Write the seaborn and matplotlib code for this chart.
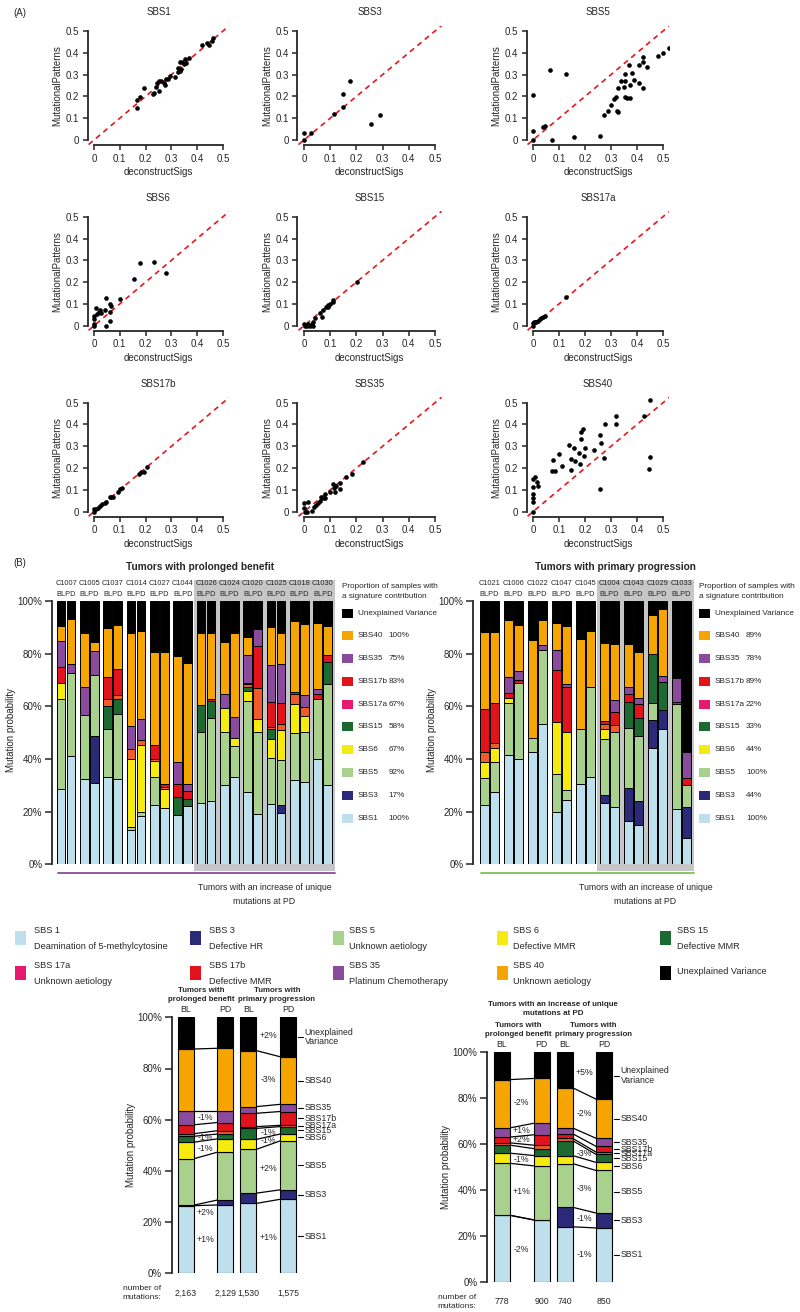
"""Signature comparison figure: (A) deconstructSigs vs MutationalPatterns, (B) stacked contributions."""
import matplotlib

matplotlib.use("Agg")
import matplotlib.pyplot as plt
import numpy as np
import seaborn as sns
from matplotlib.lines import Line2D
from matplotlib.patches import Rectangle

W, H = 800, 1312

# ---------------------------------------------------------------- data (A)
SBS1_DS = [0.167, 0.167, 0.180, 0.194, 0.229, 0.231, 0.242, 0.245, 0.252, 0.252, 0.261,
           0.270, 0.274, 0.280, 0.287, 0.293, 0.313, 0.326, 0.326, 0.332, 0.338, 0.332,
           0.342, 0.351, 0.349, 0.355, 0.368, 0.420, 0.438, 0.446, 0.461, 0.456]
SBS1_MP = [0.148, 0.183, 0.196, 0.237, 0.209, 0.217, 0.242, 0.260, 0.271, 0.226, 0.271,
           0.260, 0.252, 0.278, 0.280, 0.294, 0.290, 0.313, 0.332, 0.318, 0.324, 0.356,
           0.359, 0.370, 0.347, 0.352, 0.378, 0.436, 0.443, 0.436, 0.466, 0.453]
SBS3_DS = [0, 0, 0.027, 0.115, 0.148, 0.148, 0.176, 0.256, 0.290]
SBS3_MP = [0.034, 0, 0.034, 0.118, 0.150, 0.210, 0.271, 0.072, 0.113]
SBS5_DS = [0, 0, 0, 0.038, 0.045, 0.064, 0.073, 0.127, 0.159, 0.259, 0.272, 0.287, 0.300,
           0.313, 0.319, 0.323, 0.326, 0.326, 0.338, 0.349, 0.354, 0.354, 0.354, 0.362,
           0.372, 0.369, 0.379, 0.372, 0.387, 0.406, 0.408, 0.422, 0.422, 0.422, 0.438,
           0.481, 0.500, 0.522]
SBS5_MP = [0, 0.043, 0.206, 0.061, 0.064, 0.321, 0, 0.303, 0.012, 0.018, 0.113, 0.133,
           0.159, 0.187, 0.196, 0.133, 0.130, 0.240, 0.271, 0.242, 0.271, 0.303, 0.199,
           0.194, 0.191, 0.343, 0.309, 0.252, 0.275, 0.263, 0.344, 0.356, 0.379, 0.237,
           0.336, 0.385, 0.398, 0.424]
SBS6_DS = [0, 0, 0, 0, 0.013, 0.009, 0.018, 0.022, 0.028, 0.041, 0.048, 0.045, 0.063,
           0.065, 0.063, 0.061, 0.099, 0.154, 0.180, 0.233, 0.280]
SBS6_MP = [0, 0.008, 0.031, 0.046, 0.054, 0.083, 0.061, 0.072, 0.057, 0.070, 0.125, 0,
           0.101, 0.090, 0.061, 0.021, 0.122, 0.213, 0.286, 0.294, 0.240]
SBS15_DS = [0, 0.004, 0.010, 0.017, 0.023, 0.029, 0.033, 0.036, 0.042, 0.061, 0.067,
            0.074, 0.083, 0.093, 0.093, 0.099, 0.109, 0.112, 0.201]
SBS15_MP = [0.008, 0, 0, 0.008, 0, 0.008, 0.018, 0, 0.034, 0.060, 0.041, 0.072, 0.087,
            0.084, 0.095, 0.099, 0.118, 0.107, 0.200]
SBS17A_DS = [0, 0, 0.003, 0.006, 0.013, 0.019, 0.026, 0.032, 0.038, 0.045, 0.128]
SBS17A_MP = [0.011, 0, 0.018, 0.015, 0.018, 0.023, 0.031, 0.034, 0.041, 0.046, 0.130]
SBS17B_DS = [0, 0, 0.009, 0.016, 0.022, 0.032, 0.041, 0.048, 0.061, 0.067, 0.074, 0.093,
             0.102, 0.110, 0.174, 0.183, 0.193, 0.205]
SBS17B_MP = [0, 0.011, 0.011, 0.018, 0.026, 0.035, 0.038, 0.043, 0.069, 0.066, 0.069,
             0.091, 0.102, 0.110, 0.175, 0.180, 0.183, 0.206]
SBS35_DS = [0, 0, 0.004, 0.010, 0.017, 0.029, 0.038, 0.046, 0.055, 0.061, 0.064, 0.071,
            0.080, 0.080, 0.099, 0.112, 0.116, 0.118, 0.122, 0.137, 0.137, 0.159, 0.182,
            0.226]
SBS35_MP = [0.041, 0.018, 0, 0, 0.046, 0.005, 0.023, 0.030, 0.038, 0.047, 0.069, 0.061,
            0.081, 0.061, 0.091, 0.125, 0.107, 0.091, 0.119, 0.130, 0.104, 0.157, 0.172,
            0.226]
SBS40_DS = [0, 0, 0, 0, 0, 0, 0.009, 0.015, 0.019, 0.076, 0.073, 0.086, 0.099, 0.112,
            0.137, 0.146, 0.147, 0.156, 0.160, 0.179, 0.178, 0.185, 0.186, 0.192, 0.195,
            0.201, 0.233, 0.259, 0.262, 0.256, 0.272, 0.276, 0.321, 0.321, 0.426, 0.449,
            0.449, 0.445]
SBS40_MP = [0, 0.043, 0.061, 0.081, 0.114, 0.149, 0.157, 0.134, 0.119, 0.236, 0.186,
            0.186, 0.264, 0.209, 0.305, 0.191, 0.240, 0.294, 0.233, 0.218, 0.268, 0.332,
            0.366, 0.378, 0.255, 0.290, 0.285, 0.352, 0.315, 0.102, 0.247, 0.401, 0.441,
            0.401, 0.439, 0.511, 0.252, 0.194]

SCATTER = [
    ("SBS1", SBS1_DS, SBS1_MP), ("SBS3", SBS3_DS, SBS3_MP), ("SBS5", SBS5_DS, SBS5_MP),
    ("SBS6", SBS6_DS, SBS6_MP), ("SBS15", SBS15_DS, SBS15_MP), ("SBS17a", SBS17A_DS, SBS17A_MP),
    ("SBS17b", SBS17B_DS, SBS17B_MP), ("SBS35", SBS35_DS, SBS35_MP), ("SBS40", SBS40_DS, SBS40_MP),
]

# ---------------------------------------------------------------- data (B)
# columns: SBS1, SBS3, SBS5, SBS6, SBS15, SBS17a, SBS17b, SBS35, SBS40 (%); rest = unexplained
SIGS = ["SBS1", "SBS3", "SBS5", "SBS6", "SBS15", "SBS17a", "SBS17b", "SBS35", "SBS40",
        "Unexplained Variance"]
BAR_COLORS = ["#bde0ec", "#2b2a78", "#a9d18e", "#f7ea0f", "#1c6a30", "#f15a29",
              "#e3131c", "#8b4b9d", "#f6a400", "#000000"]
KEY_COLORS = ["#bde0ec", "#2b2a78", "#a9d18e", "#f7ea0f", "#1c6a30", "#e6196e",
              "#e3131c", "#8b4b9d", "#f6a400", "#000000"]

BENEFIT_SAMPLES = ["C1007", "C1005", "C1037", "C1014", "C1027", "C1044",
                   "C1026", "C1024", "C1020", "C1025", "C1018", "C1030"]
BENEFIT_BARS = [
    [28.5, 0, 34.3, 6.1, 0, 0, 6.1, 9.8, 5.6], [41.3, 0, 31.4, 0, 0, 0, 0, 3.3, 17.3],
    [32.4, 0, 24.3, 0, 0, 0, 0, 10.5, 20.6], [30.8, 17.9, 23.1, 0, 0, 0, 0, 9.2, 3.4],
    [33.3, 0, 18.1, 0, 8.7, 2.6, 8.4, 0, 18.8], [32.4, 0, 24.6, 0, 5.7, 1.6, 10.0, 0, 16.7],
    [13.0, 0, 1.3, 25.7, 0, 3.8, 0, 8.9, 35.1], [18.4, 0, 1.6, 25.3, 0, 1.9, 0, 7.9, 33.5],
    [22.5, 0, 10.8, 5.9, 0, 0.8, 5.3, 0, 35.3], [21.5, 0, 0, 7.1, 0, 0.9, 1.0, 0, 50.1],
    [18.7, 0, 0, 0, 7.0, 0, 4.8, 8.5, 40.2], [22.2, 0, 0, 0, 2.6, 0, 3.0, 2.6, 46.1],
    [23.2, 0, 26.9, 0, 10.4, 0, 0, 0, 27.5], [24.2, 0, 31.5, 0, 6.3, 0, 0.8, 0, 25.2],
    [30.1, 0, 20.3, 8.8, 0, 0, 0, 5.4, 19.8], [33.0, 0, 11.9, 2.9, 0, 0, 0, 8.2, 31.8],
    [27.6, 0, 34.6, 3.8, 1.5, 1.0, 0.5, 10.5, 6.8], [19.2, 0, 30.9, 5.1, 0, 11.6, 16.0, 6.7, 0],
    [22.9, 0, 17.4, 7.2, 3.9, 0.9, 9.2, 14.1, 14.5], [19.6, 2.9, 17.1, 11.4, 0, 2.2, 7.9, 15.1, 11.6],
    [32.0, 0, 17.7, 11.1, 0, 3.9, 0.9, 0, 26.7], [31.4, 0, 18.7, 6.2, 0, 3.6, 0, 4.4, 26.8],
    [40.0, 0, 22.7, 0, 0, 0, 1.9, 1.9, 25.3], [30.1, 0, 38.5, 0, 8.2, 0, 2.8, 0, 10.8],
]
BENEFIT_PROP = ["100%", "75%", "83%", "67%", "58%", "67%", "92%", "17%", "100%"]

PROGRESSION_SAMPLES = ["C1021", "C1006", "C1022", "C1047", "C1045",
                       "C1004", "C1043", "C1029", "C1033"]
PROGRESSION_BARS = [
    [22.6, 0, 10.1, 6.3, 0, 3.7, 16.2, 0, 29.5], [27.4, 0, 11.6, 5.0, 0, 2.0, 15.2, 0, 27.2],
    [41.6, 0, 19.6, 1.8, 0, 0, 1.9, 6.1, 21.7], [40.0, 0, 29.0, 0, 0, 0, 1.0, 3.5, 17.4],
    [42.7, 0, 5.1, 0, 0, 0, 0, 0, 37.2], [53.2, 0, 28.3, 0, 0, 0, 0, 1.9, 9.4],
    [19.8, 0, 14.5, 19.8, 0, 0, 19.7, 7.5, 10.3], [24.5, 0, 3.7, 22.1, 0, 0, 17.2, 0.8, 22.3],
    [30.5, 0, 20.8, 0, 0, 0, 0, 0, 34.3], [33.0, 0, 34.5, 0, 0, 0, 0, 0, 21.0],
    [23.2, 3.2, 21.1, 3.8, 0, 1.9, 1.3, 0, 29.6], [21.7, 0, 28.7, 0, 0, 2.6, 5.0, 4.4, 21.4],
    [16.3, 12.6, 22.7, 0, 10.2, 0, 2.8, 2.9, 16.0], [14.8, 9.2, 24.6, 0, 7.1, 0, 5.1, 2.3, 17.5],
    [44.0, 10.7, 6.5, 0, 18.8, 0, 0, 0, 14.8], [51.3, 7.2, 0, 0, 10.9, 0, 0, 2.2, 25.3],
    [21.0, 0, 39.8, 0, 0, 0, 0.9, 9.2, 0], [10.0, 11.7, 8.4, 0, 0, 0, 2.7, 9.9, 0],
]
PROGRESSION_PROP = ["89%", "78%", "89%", "22%", "33%", "44%", "100%", "44%", "100%"]
N_UNIQUE_FROM = 6  # first sample (index) with an increase of unique mutations at PD
N_UNIQUE_FROM_PROG = 5

# pooled contributions: [BL, PD] for prolonged benefit, then primary progression
ALL_BENEFIT_BL = [26.4, 0.2, 18.1, 6.5, 2.3, 1.0, 3.5, 5.5, 24.1]
ALL_BENEFIT_PD = [26.7, 1.9, 18.7, 5.2, 1.9, 1.3, 3.2, 4.6, 24.4]
ALL_PROG_BL = [27.3, 4.0, 17.1, 3.9, 4.3, 0.7, 5.2, 2.6, 21.9]
ALL_PROG_PD = [28.9, 3.7, 19.1, 2.7, 2.9, 0.5, 5.4, 2.8, 18.6]
ALL_MUTATIONS = ["2,163", "2,129", "1,530", "1,575"]
ALL_DELTAS = [[(0, "+1%", 0), (1, "+2%", -3.5), (3, "-1%", 0), (4, "-1%", 0), (7, "-1%", 0)],
              [(0, "+1%", 0), (2, "+2%", 0), (3, "-1%", 0), (4, "-1%", 0), (8, "-3%", 0),
               (9, "+2%", 0)]]

INC_BENEFIT_BL = [29.0, 0, 22.6, 4.4, 3.5, 1.0, 2.5, 4.0, 21.0]
INC_BENEFIT_PD = [27.0, 0, 23.5, 4.5, 3.0, 1.5, 4.5, 5.0, 19.5]
INC_PROG_BL = [24.0, 8.5, 19.0, 3.5, 6.5, 1.0, 2.0, 2.5, 17.5]
INC_PROG_PD = [23.5, 6.5, 18.5, 3.5, 3.5, 1.0, 2.5, 3.5, 17.0]
INC_MUTATIONS = ["778", "900", "740", "850"]
INC_DELTAS = [[(0, "-2%", 0), (2, "+1%", 0), (3, "-1%", 0), (6, "+2%", 0), (7, "+1%", 0),
               (8, "-2%", 0)],
              [(0, "-1%", 0), (1, "-1%", 0), (2, "-3%", 0), (4, "-3%", 0), (8, "-2%", 0),
               (9, "+5%", 0)]]

LEGEND_TEXT = [("SBS 1", "Deamination of 5-methylcytosine"), ("SBS 3", "Defective HR"),
               ("SBS 5", "Unknown aetiology"), ("SBS 6", "Defective MMR"),
               ("SBS 15", "Defective MMR"), ("SBS 17a", "Unknown aetiology"),
               ("SBS 17b", "Defective MMR"), ("SBS 35", "Platinum Chemotherapy"),
               ("SBS 40", "Unknown aetiology"), ("Unexplained Variance", None)]

# ---------------------------------------------------------------- setup
sns.set_style("ticks")
plt.rcParams["font.family"] = ["Liberation Sans", "DejaVu Sans"]
plt.rcParams["axes.linewidth"] = 1.3

fig = plt.figure(figsize=(W / 100, H / 100), dpi=100)


def box(x0, y0, x1, y1):
    ax = fig.add_axes([x0 / W, 1 - y1 / H, (x1 - x0) / W, (y1 - y0) / H])
    ax.set_facecolor("none")
    return ax


def ftext(x, y, s, **kw):
    kw.setdefault("va", "center")
    kw.setdefault("fontsize", 7)
    fig.text(x / W, 1 - y / H, s, **kw)


def frect(x0, y0, x1, y1, **kw):
    fig.add_artist(Rectangle((x0 / W, 1 - y1 / H), (x1 - x0) / W, (y1 - y0) / H,
                             transform=fig.transFigure, **kw))


def fline(x0, y0, x1, y1, **kw):
    fig.add_artist(Line2D([x0 / W, x1 / W], [1 - y0 / H, 1 - y1 / H],
                          transform=fig.transFigure, **kw))


# ---------------------------------------------------------------- panel A
COL_X0 = [94, 304, 533]
COL_UX = [258, 262, 260]
ROW_Y0 = [140, 325.7, 511.7]
UY = 218
LO, HI = -0.025, 0.525
ticks = [0, 0.1, 0.2, 0.3, 0.4, 0.5]
tick_labels = ["0", "0.1", "0.2", "0.3", "0.4", "0.5"]

ftext(13, 13, "(A)", fontsize=7)
for k, (name, xs, ys) in enumerate(SCATTER):
    r, c = divmod(k, 3)
    x0, ux, y0 = COL_X0[c], COL_UX[c], ROW_Y0[r]
    ax = box(x0 + LO * ux, y0 - HI * UY, x0 + HI * ux, y0 - LO * UY)
    ax.plot([LO + 0.004, HI], [LO + 0.004, HI], ls=(0, (3.2, 2.6)), color="#e8161d",
            lw=1.2, zorder=1)
    sns.scatterplot(x=xs, y=ys, ax=ax, color="black", s=11, linewidth=0, zorder=2)
    ax.set_xlim(LO, HI)
    ax.set_ylim(LO, HI)
    sns.despine(ax=ax)
    ax.spines["left"].set_bounds(0, 0.5)
    ax.spines["bottom"].set_bounds(0, 0.5)
    ax.set_xticks(ticks, tick_labels)
    ax.set_yticks(ticks, tick_labels)
    ax.tick_params(length=3.5, width=1.1, pad=2.5, labelsize=7)
    ftext(x0 + 0.25 * ux, y0 - 0.5 * UY - 19, name, ha="center")
    ftext(x0 + 0.25 * ux, y0 + 32, "deconstructSigs", ha="center")
    ftext(x0 - 37, y0 - 0.25 * UY, "MutationalPatterns", ha="center", rotation=90)

# ---------------------------------------------------------------- panel B
ftext(13, 563, "(B)", fontsize=7)
BAR_W = 8.7
PD_OFF = 10


def sample_panel(spine_x, right_x, first_left, step, samples, bars, prop, unique_from,
                 title, title_x, line_color, key_x):
    top, bottom = 601, 864.3
    ax = box(spine_x, top, right_x, bottom)
    ax.set_xlim(spine_x, right_x)
    ax.set_ylim(0, 100)
    n = len(samples)
    bl_left = first_left + step * np.arange(n)
    centers = np.ravel(np.column_stack([bl_left + BAR_W / 2, bl_left + PD_OFF + BAR_W / 2]))
    vals = np.array(bars)
    vals = np.column_stack([vals, 100 - vals.sum(axis=1)])
    cum = np.zeros(len(vals))
    for j in range(vals.shape[1]):
        ax.bar(centers, vals[:, j], bottom=cum, width=BAR_W, color=BAR_COLORS[j],
               edgecolor="black", linewidth=0.7, zorder=3)
        cum += vals[:, j]
    sns.despine(ax=ax, bottom=True)
    ax.set_xticks([])
    ax.set_yticks([0, 20, 40, 60, 80, 100], ["0%", "20%", "40%", "60%", "80%", "100%"])
    ax.tick_params(axis="y", length=5, width=1.1, pad=2, labelsize=7)
    ax.spines["left"].set_bounds(0, 100)

    # shaded group with increased unique mutations
    g0 = bl_left[unique_from] - 3
    g1 = bl_left[-1] + PD_OFF + BAR_W + 3
    frect(g0, 580, g1, 871, facecolor="#c6c6c6", edgecolor="none", zorder=-1)
    fline(first_left + 1, 873, g1, 873, color=line_color, lw=1.3)
    ftext((g0 + g1) / 2, 887, "Tumors with an increase of unique", ha="center", fontsize=6.3)
    ftext((g0 + g1) / 2, 902, "mutations at PD", ha="center", fontsize=6.3)

    for s, left in zip(samples, bl_left):
        cx = left + (PD_OFF + BAR_W) / 2
        ftext(cx, 584, s, ha="center", fontsize=5.3)
        ftext(cx, 594.5, "BLPD", ha="center", fontsize=5.3)
    ftext(title_x, 567, title, ha="center", fontsize=7.3, fontweight="bold")
    ftext(spine_x - 41, 730, "Mutation probability", ha="center", rotation=90, fontsize=7)

    # side key with proportion of samples
    ftext(key_x, 587, "Proportion of samples with", fontsize=5.9)
    ftext(key_x, 596.5, "a signature contribution", fontsize=5.9)
    names = ["Unexplained Variance"] + SIGS[8::-1]
    colors = [BAR_COLORS[9]] + BAR_COLORS[8::-1]
    colors[4] = KEY_COLORS[5]
    for i, (nm, col) in enumerate(zip(names, colors)):
        y = 613 + 22.8 * i
        frect(key_x, y - 4.5, key_x + 11, y + 4.5, facecolor=col, edgecolor="none")
        ftext(key_x + 16, y, nm, fontsize=5.9)
        if i > 0:
            ftext(key_x + 47, y, prop[i - 1], fontsize=5.9)


sample_panel(52, 345, 56.7, 23.33, BENEFIT_SAMPLES, BENEFIT_BARS, BENEFIT_PROP,
             N_UNIQUE_FROM, "Tumors with prolonged benefit", 200, "#8b4b9d", 341.5)
sample_panel(473, 697, 480, 24, PROGRESSION_SAMPLES, PROGRESSION_BARS, PROGRESSION_PROP,
             N_UNIQUE_FROM_PROG, "Tumors with primary progression", 615, "#7cc05a", 699)

# legend row
LEG_SQ_X = [15, 190, 333, 497, 660]
LEG_TX_X = [34, 209, 349, 513, 677]
for i, ((head, sub), col) in enumerate(zip(LEGEND_TEXT, KEY_COLORS)):
    r, c = divmod(i, 5)
    yc = 938 + 35 * r
    frect(LEG_SQ_X[c], yc - 7, LEG_SQ_X[c] + 10.5, yc + 7, facecolor=col, edgecolor="none")
    if sub is None:
        ftext(LEG_TX_X[c], yc - 1, head, fontsize=6.6)
    else:
        ftext(LEG_TX_X[c], yc - 7.5, head, fontsize=6.6)
        ftext(LEG_TX_X[c], yc + 8.5, sub, fontsize=6.6)


# ---------------------------------------------------------------- pooled BL/PD panels
def change_panel(spine_x, top, bottom, first_c, bar_w, pd_off, g_step, groups, deltas,
                 mutations, label_x_num, title_dx, head=None):
    right_x = spine_x + 170
    ax = box(spine_x, top, right_x, bottom)
    ax.set_xlim(spine_x, right_x)
    ax.set_ylim(0, 100)
    sns.despine(ax=ax, bottom=True)
    ax.set_xticks([])
    ax.set_yticks([0, 20, 40, 60, 80, 100], ["0%", "20%", "40%", "60%", "80%", "100%"])
    ax.tick_params(axis="y", length=5, width=1.1, pad=2, labelsize=7)
    ax.spines["left"].set_bounds(0, 100)
    ppx = (bottom - top) / 100
    titles = [("Tumors with", "prolonged benefit"), ("Tumors with", "primary progression")]
    for g, (bl, pd) in enumerate(groups):
        cb = first_c + g * g_step
        cp = cb + pd_off
        stacks = []
        for cx, v in ((cb, bl), (cp, pd)):
            v = np.append(v, 100 - np.sum(v))
            b = np.concatenate([[0], np.cumsum(v)[:-1]])
            ax.bar([cx] * len(v), v, bottom=b, width=bar_w, color=BAR_COLORS,
                   edgecolor="black", linewidth=0.8, zorder=3)
            stacks.append((b, v))
        (bb, vb), (bp, vp) = stacks
        for k in range(1, len(vb)):
            ax.plot([cb + bar_w / 2, cp - bar_w / 2], [bb[k], bp[k]], color="black", lw=0.9)
        for idx, txt, nudge in deltas[g]:
            mid = (bb[idx] + vb[idx] / 2 + bp[idx] + vp[idx] / 2) / 2 + nudge
            ax.text((cb + cp) / 2, mid, txt, ha="center", va="center", fontsize=6.3)
        t1, t2 = titles[g]
        mx = cb + title_dx[g]
        ftext(mx, top - 26.5, t1, ha="center", fontsize=5.7, fontweight="bold")
        ftext(mx, top - 18, t2, ha="center", fontsize=5.7, fontweight="bold")
        ftext(cb, top - 7.5, "BL", ha="center", fontsize=6.3)
        ftext(cp, top - 7.5, "PD", ha="center", fontsize=6.3)
        ftext(cb, bottom + 20, mutations[2 * g], ha="center", fontsize=6.3)
        ftext(cp, bottom + 20, mutations[2 * g + 1], ha="center", fontsize=6.3)
        if g == len(groups) - 1:
            names = SIGS[:9] + ["Unexplained\nVariance"]
            for k, nm in enumerate(names):
                if vp[k] <= 0:
                    continue
                ymid = bottom - (bp[k] + vp[k] / 2) * ppx
                fline(cp + bar_w / 2 + 1.5, ymid, cp + bar_w / 2 + 7, ymid, color="black",
                      lw=0.8)
                ftext(cp + bar_w / 2 + 8.5, ymid, nm, fontsize=6.3, linespacing=1.1)
    ftext(label_x_num, bottom + 15.5, "number of", ha="center", fontsize=6)
    ftext(label_x_num, bottom + 24, "mutations:", ha="center", fontsize=6)
    ftext(spine_x - 41, (top + bottom) / 2, "Mutation probability", ha="center",
          rotation=90, fontsize=7)
    if head:
        hx = first_c + (g_step + pd_off) / 2
        ftext(hx, top - 47, head[0], ha="center", fontsize=5.7, fontweight="bold")
        ftext(hx, top - 38.5, head[1], ha="center", fontsize=5.7, fontweight="bold")


change_panel(171.7, 1017.3, 1273.3, 185.5, 16, 39.7, 62.8,
             [(ALL_BENEFIT_BL, ALL_BENEFIT_PD), (ALL_PROG_BL, ALL_PROG_PD)],
             ALL_DELTAS, ALL_MUTATIONS, 141.7, (16.2, 28.7))
change_panel(487, 1052, 1282, 502, 16, 39.5, 62.5,
             [(INC_BENEFIT_BL, INC_BENEFIT_PD), (INC_PROG_BL, INC_PROG_PD)],
             INC_DELTAS, INC_MUTATIONS, 457, (16.2, 28.7),
             head=("Tumors with an increase of unique", "mutations at PD"))

fig.savefig("out.png", dpi=100)
